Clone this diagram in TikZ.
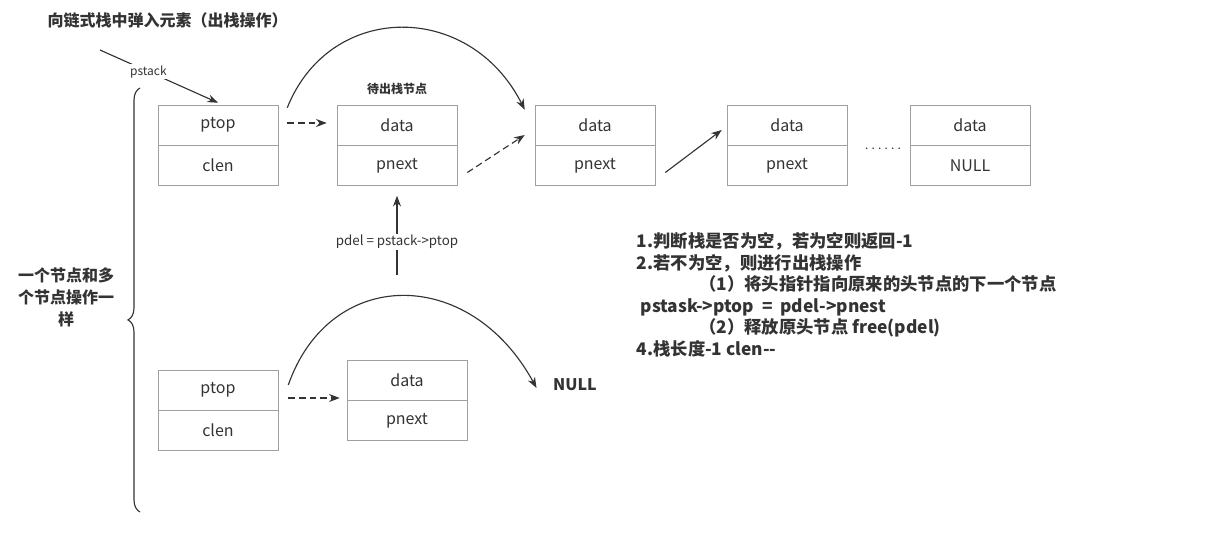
\documentclass[tikz,border=0pt]{standalone}
\usepackage{fontspec}
\setmainfont{Noto Sans CJK SC}
\usetikzlibrary{positioning,arrows.meta,calc,decorations.pathreplacing}
\definecolor{boxgray}{HTML}{A0A0A0}
\definecolor{ink}{HTML}{333333}

\begin{document}
\begin{tikzpicture}[x=0.75pt,y=-0.75pt,>={Stealth[length=8pt,width=6pt]},
    cell/.style={draw=boxgray,thin,minimum width=90pt,minimum height=30pt,inner sep=0pt,text=ink,font=\fontsize{12}{14}\selectfont},
    link/.style={->,draw=ink,line width=0.85pt},
    dlink/.style={link,dash pattern=on 5pt off 3pt},
    lbl/.style={fill=white,inner sep=1pt,text=ink,font=\fontsize{9}{11}\selectfont}]
\useasboundingbox (0,0) rectangle (1206,555);

    % Title
	\node [anchor=west,font=\bfseries\fontsize{12}{14}\selectfont,text=ink] at (43,20) (title) {向链式栈中弹入元素（出栈操作）};

    % Top row: stack head and nodes
	\node [cell] at (218,125) (sptop) {ptop};
	\node [cell,below=0pt of sptop] (sclen) {clen};
	\node [cell] at (397,125) (d1data) {data};
	\node [cell,below=0pt of d1data] (d1next) {pnext};
	\node [font=\bfseries\fontsize{9}{11}\selectfont,text=ink] at (397,89) (popname) {待出栈节点};
	\node [cell] at (595,125) (d2data) {data};
	\node [cell,below=0pt of d2data] (d2next) {pnext};
	\node [cell] at (787,125) (d3data) {data};
	\node [cell,below=0pt of d3data] (d3next) {pnext};
	\node [text=ink,font=\fontsize{9}{11}\selectfont] at (883,149) (dots) {.\hspace{2.4pt}.\hspace{2.4pt}.\hspace{2.4pt}.\hspace{2.4pt}.\hspace{2.4pt}.};
	\node [cell] at (970,125) (d4data) {data};
	\node [cell,below=0pt of d4data] (d4next) {NULL};

	\coordinate (pfree) at (100,50);
	\coordinate (pdelstart) at (397,275);

	% Top row edges
	\draw [link] (pfree) -- node [lbl,pos=0.41] {pstack} ($(sptop.north)+(0,-2)$);
	\draw [dlink] ($(sptop.east)+(9,-2)$) -- ($(d1data.west)+(-10,-2)$);
	\draw [dlink] ($(d1next.east)+(10,7)$) -- ($(d2data.west)+(-10,10)$);
	\draw [link] ($(d2next.east)+(10,7)$) -- ($(d3data.west)+(-5,5)$);
	\draw [link] ($(sptop.north east)+(9,3)$) .. controls (330,1) and (470,1) .. ($(d2data.north west)+(-10,5)$);
	\draw [link] (pdelstart) -- node [lbl,pos=0.42,font=\fontsize{10}{12}\selectfont] {pdel = pstack->ptop} ($(d1next.south)+(0,10)$);

    % Bottom row: only one node
	\node [cell] at (218,390) (bptop) {ptop};
	\node [cell,below=0pt of bptop] (bclen) {clen};
	\node [cell] at (407,380) (bdata) {data};
	\node [cell,below=0pt of bdata] (bnext) {pnext};
	\node [font=\bfseries\fontsize{12}{14}\selectfont,text=ink] at (575,385) (bnull) {NULL};

	% Bottom row edges
	\draw [dlink] ($(bptop.east)+(10,8)$) -- ($(bdata.west)+(-7,18)$);
	\draw [link] ($(bptop.east)+(10,-5)$) .. controls (330,266) and (470,266) .. ($(bnull.west)+(-12,3)$);

    % Brace and note
	\coordinate (bracebot) at (140,512);
	\coordinate (bracetop) at (140,88);
	\draw [ink,line width=0.85pt,decorate,decoration={brace,amplitude=9pt,aspect=0.453}] (bracebot) -- (bracetop);
	\node [align=center,text=ink,font=\bfseries\fontsize{12}{16.5}\selectfont] at (66,297) (same) {一个节点和多\\个节点操作一\\样};

    % Steps
	\node [anchor=north west,align=left,text=ink,font=\bfseries\fontsize{13}{16.1}\selectfont] at (632,228) (steps) {1.判断栈是否为空，若为空则返回-1\\
	2.若不为空，则进行出栈操作\\
	\hspace*{47pt}（1）将头指针指向原来的头节点的下一个节点\\
	\hspace*{3pt}pstask->ptop\ \ =\ \ pdel->pnest\\
	\hspace*{47pt}（2）释放原头节点 free(pdel)\\
	4.栈长度-1 clen-{}-};

\end{tikzpicture}
\end{document}
